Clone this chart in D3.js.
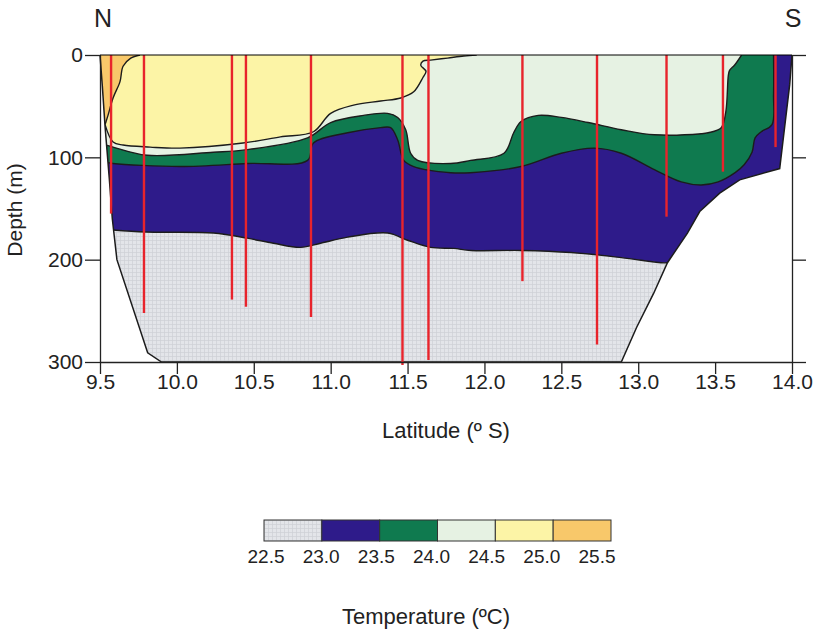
<!DOCTYPE html>
<html>
<head>
<meta charset="utf-8">
<script src="https://cdn.jsdelivr.net/npm/d3@7"></script>
<style>
body {margin:0; background:#fff;}
text {font-family:"Liberation Sans", Arial, sans-serif; fill:#222;}
</style>
</head>
<body>
<svg id="chart" width="823" height="630"></svg>
<script>
// sea floor profile, north to south [lat, depth]
var floorProfile = [[9.5,0],[9.515,30],[9.533,70],[9.56,120],[9.58,160],[9.61,200],[9.81,291],[9.90,300],
	[12.89,300],[12.99,266],[13.10,233],[13.19,203],[13.32,174],[13.40,153],[13.53,135],[13.66,122],[13.92,111],[13.985,29],[14.0,0]];

// isotherms [lat, depth]
var iso230 = [[9.585,171],[9.8,173],[10.237,174],[10.458,179],[10.628,184],[10.804,188],[10.934,184],[11.11,178],[11.371,174],[11.50,181],[11.651,188],[11.80,189],[11.912,191],[12.238,191],[12.564,193],[12.89,198],[13.15,203],[13.19,203]];
var iso235 = [[9.545,105],[9.585,106],[10.02,109],[10.458,106],[10.85,103],[10.888,86],[11.11,76],[11.325,71],[11.39,71],[11.436,83],[11.475,103],[11.54,109],[11.78,115],[11.91,115],[12.238,109],[12.5,96],[12.714,91],[12.89,96],[13.105,112],[13.28,124],[13.41,127],[13.52,124],[13.63,115],[13.69,107],[13.74,95],[13.76,81],[13.80,75],[13.87,68],[13.88,39],[13.88,0]];
var iso240 = [[9.54,88],[9.585,90],[9.806,98],[10.237,95],[10.43,93],[10.85,81],[11.0,66],[11.214,59],[11.37,57],[11.436,61],[11.488,73],[11.52,96],[11.566,103],[11.78,106],[11.91,103],[12.127,96],[12.19,76],[12.238,65],[12.35,59],[12.5,61],[12.675,66],[12.89,73],[13.105,78],[13.41,77],[13.455,76],[13.54,71],[13.57,55],[13.586,20],[13.594,15],[13.626,10],[13.672,0]];
var iso245 = [[9.533,68],[9.585,85],[9.65,88],[9.826,90],[10.02,91],[10.43,86],[10.673,80],[10.888,75],[11.0,57],[11.149,49],[11.325,45],[11.456,42],[11.54,36],[11.6,22],[11.62,16],[11.586,10],[11.6,6],[11.65,5],[11.76,3],[11.866,1],[11.95,0]];
var iso250 = [[9.533,68],[9.552,59],[9.585,42],[9.63,26],[9.65,11],[9.70,3],[9.76,0]];

// CTD stations
var stationLat = [9.572, 9.786, 10.358, 10.449, 10.872, 11.467, 11.636, 12.247, 12.732, 13.184, 13.551, 13.893];
var stationDepth = [155, 252, 239, 246, 256, 303, 298, 221, 283, 158, 114, 90];

var latTicks = [9.5, 10.0, 10.5, 11.0, 11.5, 12.0, 12.5, 13.0, 13.5, 14.0];
var depthTicks = [0, 100, 200, 300];

var legendBreaks = [22.5, 23.0, 23.5, 24.0, 24.5, 25.0, 25.5];
var layerColors = ["url(#hatch)", "#2e1b8a", "#0f7a4f", "#e6f2e3", "#fcf4a6", "#f8c86a"];

var svg = d3.select("#chart");

var x = d3.scaleLinear().domain([9.5,14.0]).range([100,792]);
var y = d3.scaleLinear().domain([0,300]).range([55,362]);

var defs = svg.append("defs");
var pat = defs.append("pattern")
	.attr("id","hatch")
	.attr("width",4).attr("height",4)
	.attr("patternUnits","userSpaceOnUse");
pat.append("rect").attr("width",4).attr("height",4).attr("fill","#e3e5e9");
pat.append("path").attr("d","M0,0.5H4M0.5,0V4").attr("stroke","#cdd0d6").attr("stroke-width",0.7);

var lineLin = d3.line().x(d => x(d[0])).y(d => y(d[1]));
var lineSmooth = d3.line().x(d => x(d[0])).y(d => y(d[1])).curve(d3.curveCatmullRom.alpha(0.5));

defs.append("clipPath").attr("id","water")
	.append("path").attr("d", lineLin(floorProfile) + "Z");

// polygon of everything warmer than the isotherm
function warmSide(line){
	var first = line[0], last = line[line.length-1];
	var pts = [[9.4,0],[9.4,first[1]]].concat(line);
	if (last[1] > 0){
		pts.push([14.1,last[1]]);
		pts.push([14.1,0]);
	}
	return pts;
}

var g = svg.append("g").attr("clip-path","url(#water)");
g.append("rect").attr("x",90).attr("y",50).attr("width",720).attr("height",320).attr("fill",layerColors[0]);

var isos = [iso230, iso235, iso240, iso245, iso250];
for (var i=0; i<isos.length; ++i){
	g.append("path")
		.attr("d", lineSmooth(warmSide(isos[i])) + "Z")
		.attr("fill", layerColors[i+1]);
}
for (var i=0; i<isos.length; ++i){
	g.append("path")
		.attr("d", lineSmooth(isos[i]))
		.attr("fill","none")
		.attr("stroke","#1c1c1c")
		.attr("stroke-width",1.4);
}

svg.append("path")
	.attr("d", lineLin(floorProfile.filter(d => d[1] > 0 || d[0] < 10 || d[0] > 13.9)))
	.attr("fill","none")
	.attr("stroke","#1c1c1c")
	.attr("stroke-width",1.5);

// stations
svg.selectAll("line.station")
	.data(stationLat)
	.enter()
	.append("line")
		.attr("class","station")
		.attr("x1", d => x(d))
		.attr("x2", d => x(d))
		.attr("y1", y(0))
		.attr("y2", (d,i) => y(stationDepth[i]))
		.attr("stroke","#e8242c")
		.attr("stroke-width",2.4);

// axes
var axisLeft = svg.append("g")
	.attr("transform","translate(100,0)")
	.call(d3.axisLeft(y).tickValues(depthTicks).tickSize(15).tickSizeOuter(0).tickPadding(2));
axisLeft.selectAll("text").attr("font-size","21px");

var axisRight = svg.append("g")
	.attr("transform","translate(792,0)")
	.call(d3.axisRight(y).tickValues(depthTicks).tickSize(14).tickSizeOuter(0).tickFormat(""));

var axisBottom = svg.append("g")
	.attr("transform","translate(0,362)")
	.call(d3.axisBottom(x).tickValues(latTicks).tickSize(12).tickSizeOuter(0).tickPadding(0).tickFormat(d3.format(".1f")));
axisBottom.selectAll("text").attr("font-size","21px");

svg.append("line")
	.attr("x1",x(9.5)).attr("x2",x(14.0))
	.attr("y1",y(0)).attr("y2",y(0))
	.attr("stroke","#000");

svg.selectAll(".domain, .tick line").attr("stroke","#222").attr("stroke-width",1.3);

svg.append("text").attr("x",x(9.5)+3).attr("y",27).attr("text-anchor","middle")
	.attr("font-size","25px").text("N");
svg.append("text").attr("x",x(14.0)+1).attr("y",27).attr("text-anchor","middle")
	.attr("font-size","25px").text("S");

svg.append("text")
	.attr("transform","translate(22,210)rotate(-90)")
	.attr("text-anchor","middle")
	.attr("font-size","21px")
	.text("Depth (m)");

svg.append("text").attr("x",446).attr("y",438).attr("text-anchor","middle")
	.attr("font-size","22px").text("Latitude (º S)");

// legend
var lx = d3.scaleLinear().domain([22.5,25.5]).range([264,611]);
var lxLabel = d3.scaleLinear().domain([22.5,25.5]).range([266,597]);
var leg = svg.append("g");
leg.selectAll("rect")
	.data(layerColors)
	.enter()
	.append("rect")
		.attr("x",(d,i) => lx(legendBreaks[i]))
		.attr("y",520)
		.attr("width",(d,i) => lx(legendBreaks[i+1]) - lx(legendBreaks[i]))
		.attr("height",21)
		.attr("fill", d => d)
		.attr("stroke","#333")
		.attr("stroke-width",1);
leg.selectAll("text")
	.data(legendBreaks)
	.enter()
	.append("text")
		.attr("x", d => lxLabel(d))
		.attr("y",563)
		.attr("text-anchor","middle")
		.attr("font-size","19px")
		.text(d => d3.format(".1f")(d));

svg.append("text").attr("x",426).attr("y",624).attr("text-anchor","middle")
	.attr("font-size","22px").text("Temperature (ºC)");
</script>
</body>
</html>
